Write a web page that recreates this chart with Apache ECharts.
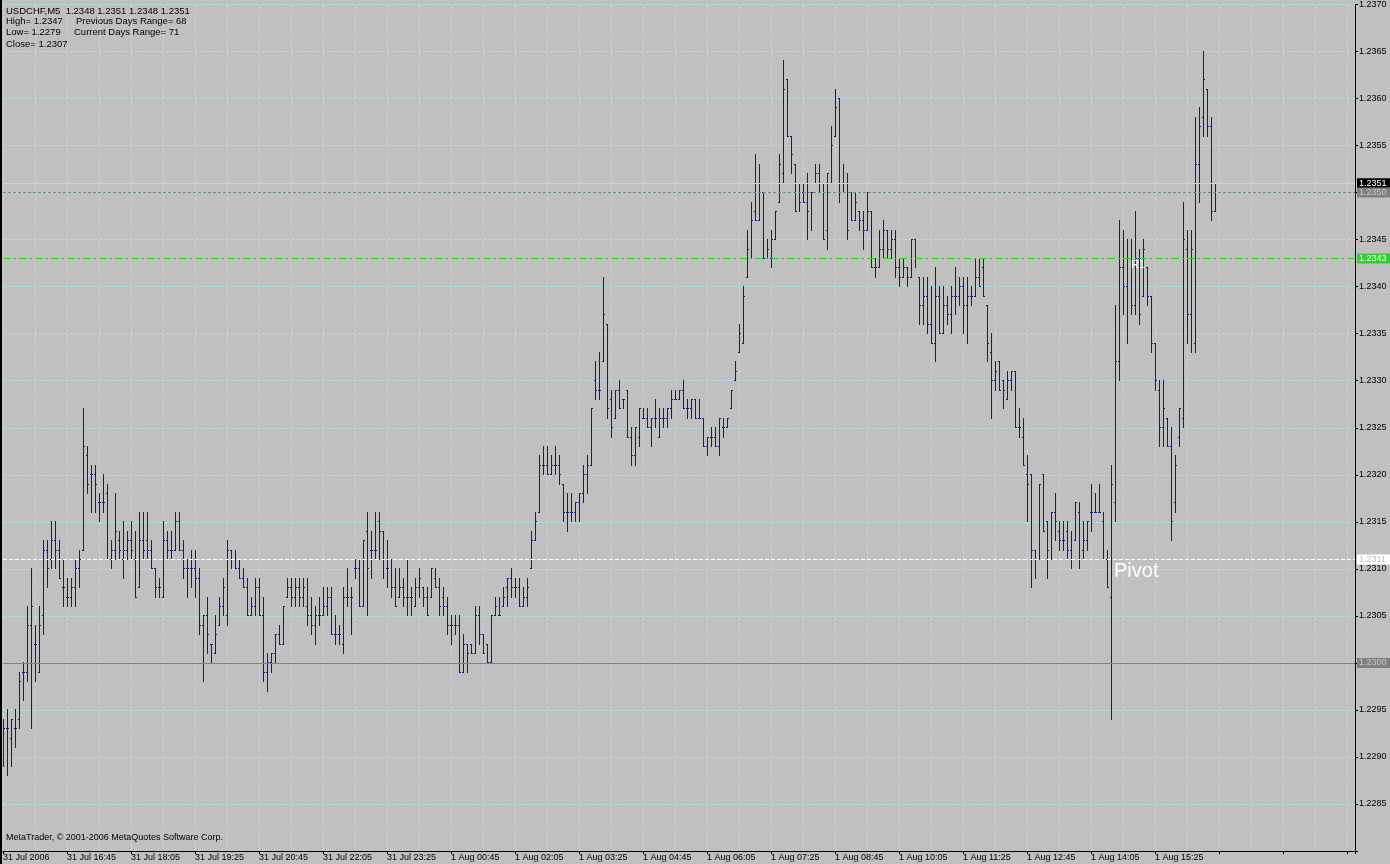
<!DOCTYPE html>
<html><head><meta charset="utf-8">
<script src="https://cdn.jsdelivr.net/npm/echarts@6.0.0/dist/echarts.min.js"></script>
<style>html,body{margin:0;padding:0;background:#c0c0c0;overflow:hidden}#c{width:1390px;height:864px}</style>
</head><body><div id="c"></div><script>
// USDCHF M5 bars, 31 Jul 2006 15:25 onwards (one entry per 5-minute bar)
const openP = [
1.2291,1.2293,1.2292,1.2293,1.2294,1.2299,1.2299,1.2304,1.2302,1.2299,
1.2305,1.2312,1.2311,1.2313,1.2312,1.2308,1.2307,1.2307,1.2308,1.2310,
1.2312,1.2322,1.2320,1.2320,1.2317,1.2317,1.2318,1.2311,1.2312,1.2313,
1.2311,1.2312,1.2313,1.2311,1.2308,1.2313,1.2313,1.2312,1.2310,1.2308,
1.2307,1.2313,1.2312,1.2312,1.2315,1.2312,1.2310,1.2310,1.2310,1.2309,
1.2304,1.2305,1.2302,1.2301,1.2304,1.2306,1.2305,1.2312,1.2311,1.2310,
1.2309,1.2308,1.2305,1.2306,1.2308,1.2305,1.2299,1.2300,1.2301,1.2303,
1.2302,1.2307,1.2308,1.2307,1.2308,1.2307,1.2306,1.2305,1.2304,1.2305,
1.2305,1.2306,1.2307,1.2303,1.2303,1.2302,1.2307,1.2307,1.2310,1.2310,
1.2306,1.2314,1.2312,1.2312,1.2315,1.2314,1.2310,1.2311,1.2308,1.2307,
1.2308,1.2307,1.2307,1.2306,1.2308,1.2308,1.2307,1.2307,1.2309,1.2308,
1.2307,1.2306,1.2304,1.2304,1.2304,1.2299,1.2302,1.2302,1.2301,1.2305,
1.2303,1.2302,1.2300,1.2305,1.2305,1.2306,1.2308,1.2309,1.2308,1.2308,
1.2306,1.2307,1.2310,1.2313,1.2316,1.2321,1.2321,1.2320,1.2321,1.2321,
1.2319,1.2316,1.2316,1.2316,1.2317,1.2318,1.2320,1.2321,1.2330,1.2329,
1.2332,1.2336,1.2328,1.2326,1.2329,1.2328,1.2329,1.2324,1.2322,1.2324,
1.2326,1.2326,1.2325,1.2326,1.2324,1.2326,1.2326,1.2327,1.2328,1.2328,
1.2329,1.2327,1.2327,1.2328,1.2326,1.2326,1.2323,1.2324,1.2324,1.2323,
1.2325,1.2325,1.2327,1.2330,1.2333,1.2334,1.2341,1.2343,1.2348,1.2347,
1.2350,1.2343,1.2343,1.2345,1.2349,1.2352,1.2362,1.2356,1.2353,1.2351,
1.2350,1.2349,1.2350,1.2351,1.2352,1.2351,1.2346,1.2351,1.2356,1.2360,
1.2351,1.2351,1.2350,1.2347,1.2348,1.2347,1.2346,1.2348,1.2342,1.2342,
1.2344,1.2346,1.2344,1.2345,1.2342,1.2341,1.2342,1.2341,1.2345,1.2341,
1.2338,1.2339,1.2336,1.2334,1.2339,1.2335,1.2338,1.2337,1.2339,1.2339,
1.2340,1.2338,1.2339,1.2339,1.2341,1.2342,1.2338,1.2333,1.2330,1.2332,
1.2330,1.2328,1.2330,1.2331,1.2325,1.2324,1.2320,1.2320,1.2312,1.2311,
1.2320,1.2315,1.2311,1.2316,1.2314,1.2313,1.2314,1.2312,1.2313,1.2316,
1.2312,1.2313,1.2316,1.2316,1.2316,1.2315,1.2311,1.2307,1.2317,1.2332,
1.2342,1.2340,1.2343,1.2338,1.2343,1.2339,1.2342,1.2339,1.2334,1.2329,
1.2325,1.2326,1.2323,1.2317,1.2324,1.2326,1.2344,1.2337,1.2334,1.2353,
1.2358,1.2361,1.2357,1.2348];
const highP = [
1.2294,1.2295,1.2294,1.2295,1.2299,1.2300,1.2306,1.2310,1.2304,1.2306,
1.2313,1.2313,1.2315,1.2315,1.2313,1.2311,1.2309,1.2309,1.2311,1.2312,
1.2327,1.2323,1.2321,1.2321,1.2318,1.2320,1.2319,1.2313,1.2318,1.2314,
1.2315,1.2314,1.2315,1.2314,1.2316,1.2316,1.2316,1.2313,1.2310,1.2309,
1.2315,1.2314,1.2314,1.2316,1.2316,1.2313,1.2311,1.2312,1.2312,1.2310,
1.2305,1.2307,1.2302,1.2305,1.2307,1.2309,1.2313,1.2312,1.2312,1.2311,
1.2310,1.2309,1.2307,1.2309,1.2309,1.2307,1.2301,1.2301,1.2303,1.2304,
1.2306,1.2309,1.2309,1.2309,1.2309,1.2309,1.2309,1.2307,1.2306,1.2307,
1.2308,1.2308,1.2308,1.2305,1.2304,1.2308,1.2310,1.2308,1.2311,1.2311,
1.2313,1.2316,1.2314,1.2316,1.2316,1.2314,1.2313,1.2311,1.2310,1.2310,
1.2309,1.2311,1.2308,1.2309,1.2310,1.2308,1.2308,1.2310,1.2310,1.2309,
1.2308,1.2307,1.2305,1.2305,1.2305,1.2303,1.2302,1.2302,1.2306,1.2306,
1.2303,1.2302,1.2305,1.2307,1.2307,1.2308,1.2309,1.2310,1.2309,1.2309,
1.2308,1.2309,1.2314,1.2316,1.2322,1.2323,1.2323,1.2322,1.2323,1.2322,
1.2319,1.2318,1.2318,1.2317,1.2318,1.2321,1.2322,1.2327,1.2332,1.2333,
1.2341,1.2336,1.2329,1.2329,1.2330,1.2328,1.2329,1.2325,1.2325,1.2327,
1.2327,1.2327,1.2326,1.2328,1.2327,1.2327,1.2327,1.2329,1.2329,1.2329,
1.2330,1.2328,1.2328,1.2328,1.2328,1.2326,1.2324,1.2325,1.2325,1.2326,
1.2326,1.2326,1.2329,1.2332,1.2336,1.2340,1.2346,1.2349,1.2354,1.2353,
1.2350,1.2345,1.2346,1.2348,1.2354,1.2364,1.2362,1.2356,1.2353,1.2351,
1.2351,1.2352,1.2350,1.2353,1.2353,1.2351,1.2352,1.2357,1.2361,1.2360,
1.2353,1.2352,1.2350,1.2350,1.2348,1.2348,1.2350,1.2348,1.2343,1.2346,
1.2347,1.2346,1.2346,1.2346,1.2343,1.2343,1.2342,1.2345,1.2345,1.2341,
1.2341,1.2341,1.2340,1.2342,1.2340,1.2340,1.2339,1.2340,1.2342,1.2341,
1.2341,1.2341,1.2340,1.2343,1.2343,1.2343,1.2338,1.2335,1.2332,1.2332,
1.2330,1.2331,1.2331,1.2331,1.2327,1.2326,1.2322,1.2320,1.2312,1.2319,
1.2320,1.2315,1.2316,1.2318,1.2315,1.2315,1.2315,1.2314,1.2317,1.2317,
1.2315,1.2315,1.2319,1.2318,1.2319,1.2316,1.2312,1.2321,1.2338,1.2347,
1.2346,1.2345,1.2345,1.2348,1.2344,1.2345,1.2342,1.2339,1.2334,1.2330,
1.2330,1.2326,1.2325,1.2322,1.2327,1.2349,1.2346,1.2346,1.2358,1.2359,
1.2365,1.2361,1.2358,1.2351];
const lowP = [
1.2289,1.2288,1.2289,1.2291,1.2293,1.2296,1.2298,1.2293,1.2298,1.2299,
1.2303,1.2308,1.2310,1.2310,1.2309,1.2306,1.2306,1.2306,1.2306,1.2308,
1.2312,1.2318,1.2316,1.2316,1.2315,1.2316,1.2311,1.2310,1.2311,1.2311,
1.2309,1.2311,1.2311,1.2307,1.2308,1.2311,1.2311,1.2310,1.2307,1.2307,
1.2307,1.2311,1.2311,1.2312,1.2312,1.2309,1.2307,1.2308,1.2307,1.2303,
1.2298,1.2301,1.2300,1.2301,1.2304,1.2305,1.2304,1.2310,1.2310,1.2309,
1.2308,1.2305,1.2305,1.2305,1.2305,1.2298,1.2297,1.2299,1.2300,1.2302,
1.2302,1.2307,1.2306,1.2306,1.2306,1.2306,1.2304,1.2303,1.2302,1.2304,
1.2305,1.2305,1.2303,1.2302,1.2302,1.2301,1.2306,1.2303,1.2309,1.2306,
1.2306,1.2305,1.2309,1.2311,1.2311,1.2309,1.2308,1.2307,1.2306,1.2307,
1.2306,1.2305,1.2305,1.2306,1.2307,1.2306,1.2305,1.2307,1.2308,1.2305,
1.2305,1.2303,1.2302,1.2303,1.2299,1.2299,1.2299,1.2301,1.2301,1.2302,
1.2301,1.2300,1.2300,1.2305,1.2305,1.2306,1.2306,1.2307,1.2307,1.2306,
1.2306,1.2306,1.2310,1.2313,1.2316,1.2320,1.2320,1.2320,1.2320,1.2319,
1.2315,1.2314,1.2315,1.2315,1.2315,1.2317,1.2318,1.2321,1.2328,1.2328,
1.2332,1.2326,1.2324,1.2326,1.2327,1.2327,1.2324,1.2321,1.2321,1.2323,
1.2326,1.2325,1.2323,1.2325,1.2324,1.2325,1.2325,1.2326,1.2328,1.2328,
1.2327,1.2326,1.2326,1.2326,1.2326,1.2323,1.2322,1.2323,1.2323,1.2322,
1.2324,1.2325,1.2327,1.2330,1.2333,1.2334,1.2341,1.2343,1.2347,1.2347,
1.2343,1.2343,1.2342,1.2345,1.2349,1.2351,1.2356,1.2352,1.2348,1.2348,
1.2349,1.2345,1.2346,1.2351,1.2350,1.2345,1.2344,1.2351,1.2356,1.2349,
1.2350,1.2345,1.2347,1.2347,1.2346,1.2344,1.2346,1.2342,1.2341,1.2342,
1.2343,1.2343,1.2343,1.2341,1.2340,1.2341,1.2340,1.2341,1.2342,1.2336,
1.2336,1.2335,1.2334,1.2332,1.2335,1.2335,1.2336,1.2335,1.2337,1.2338,
1.2335,1.2334,1.2338,1.2339,1.2340,1.2339,1.2332,1.2326,1.2329,1.2329,
1.2327,1.2328,1.2329,1.2325,1.2324,1.2321,1.2315,1.2308,1.2309,1.2311,
1.2314,1.2309,1.2311,1.2313,1.2312,1.2312,1.2311,1.2310,1.2313,1.2310,
1.2311,1.2312,1.2314,1.2316,1.2316,1.2311,1.2308,1.2294,1.2315,1.2330,
1.2337,1.2334,1.2337,1.2337,1.2336,1.2339,1.2338,1.2333,1.2329,1.2323,
1.2323,1.2323,1.2313,1.2316,1.2323,1.2325,1.2334,1.2333,1.2333,1.2349,
1.2356,1.2356,1.2347,1.2348];
const closeP = [
1.2293,1.2293,1.2294,1.2293,1.2298,1.2299,1.2304,1.2306,1.2302,1.2304,
1.2312,1.2310,1.2313,1.2312,1.2309,1.2308,1.2307,1.2308,1.2310,1.2311,
1.2323,1.2319,1.2320,1.2319,1.2317,1.2317,1.2311,1.2312,1.2314,1.2312,
1.2312,1.2313,1.2312,1.2307,1.2313,1.2312,1.2312,1.2310,1.2308,1.2308,
1.2313,1.2312,1.2312,1.2315,1.2312,1.2310,1.2310,1.2310,1.2309,1.2304,
1.2305,1.2303,1.2302,1.2303,1.2306,1.2308,1.2312,1.2311,1.2310,1.2309,
1.2308,1.2305,1.2306,1.2308,1.2305,1.2299,1.2300,1.2301,1.2303,1.2302,
1.2306,1.2308,1.2307,1.2308,1.2307,1.2308,1.2305,1.2304,1.2305,1.2305,
1.2306,1.2307,1.2303,1.2303,1.2303,1.2307,1.2307,1.2307,1.2310,1.2306,
1.2313,1.2310,1.2312,1.2312,1.2314,1.2311,1.2310,1.2308,1.2306,1.2308,
1.2307,1.2307,1.2307,1.2308,1.2309,1.2307,1.2305,1.2310,1.2308,1.2306,
1.2306,1.2304,1.2304,1.2304,1.2299,1.2302,1.2301,1.2301,1.2305,1.2303,
1.2301,1.2300,1.2305,1.2306,1.2305,1.2307,1.2309,1.2308,1.2308,1.2306,
1.2307,1.2308,1.2313,1.2315,1.2321,1.2321,1.2320,1.2321,1.2321,1.2320,
1.2316,1.2316,1.2316,1.2317,1.2318,1.2320,1.2321,1.2327,1.2329,1.2329,
1.2337,1.2327,1.2325,1.2329,1.2327,1.2328,1.2324,1.2322,1.2325,1.2327,
1.2326,1.2325,1.2326,1.2326,1.2326,1.2326,1.2327,1.2328,1.2328,1.2329,
1.2327,1.2327,1.2328,1.2326,1.2326,1.2323,1.2324,1.2324,1.2323,1.2326,
1.2325,1.2326,1.2329,1.2331,1.2335,1.2339,1.2344,1.2347,1.2347,1.2351,
1.2343,1.2344,1.2345,1.2348,1.2353,1.2361,1.2356,1.2354,1.2348,1.2349,
1.2349,1.2348,1.2350,1.2352,1.2351,1.2345,1.2352,1.2355,1.2359,1.2350,
1.2351,1.2346,1.2347,1.2349,1.2347,1.2346,1.2348,1.2342,1.2342,1.2344,
1.2346,1.2344,1.2345,1.2342,1.2341,1.2342,1.2341,1.2345,1.2343,1.2338,
1.2339,1.2336,1.2334,1.2339,1.2335,1.2338,1.2337,1.2339,1.2339,1.2340,
1.2338,1.2339,1.2339,1.2341,1.2340,1.2339,1.2334,1.2330,1.2331,1.2329,
1.2329,1.2330,1.2331,1.2325,1.2325,1.2321,1.2319,1.2312,1.2311,1.2319,
1.2314,1.2312,1.2316,1.2315,1.2313,1.2313,1.2312,1.2311,1.2317,1.2311,
1.2313,1.2315,1.2316,1.2316,1.2316,1.2311,1.2308,1.2319,1.2332,1.2342,
1.2340,1.2343,1.2338,1.2343,1.2337,1.2344,1.2339,1.2334,1.2330,1.2325,
1.2327,1.2323,1.2315,1.2321,1.2327,1.2345,1.2337,1.2344,1.2353,1.2357,
1.2362,1.2357,1.2348,1.2351];

// time labels, one every 16 bars
const xTickLabels = ["31 Jul 2006","31 Jul 16:45","31 Jul 18:05","31 Jul 19:25","31 Jul 20:45",
  "31 Jul 22:05","31 Jul 23:25","1 Aug 00:45","1 Aug 02:05","1 Aug 03:25","1 Aug 04:45",
  "1 Aug 06:05","1 Aug 07:25","1 Aug 08:45","1 Aug 10:05","1 Aug 11:25","1 Aug 12:45",
  "1 Aug 14:05","1 Aug 15:25"];

// horizontal price levels
const levelPrices = [1.2351, 1.2350, 1.2343, 1.2311, 1.2300];
const hiddenAxisLabels = [12280, 12300, 12350];

const headerLines = [
  ["USDCHF,M5  1.2348 1.2351 1.2348 1.2351", ""],
  ["High= 1.2347", "Previous Days Range= 68"],
  ["Low= 1.2279", "Current Days Range= 71"],
  ["Close= 1.2307", ""]
];

const FONT = '"Liberation Sans", Arial, sans-serif';
const barColor = '#191970';
const gridColor = '#a4e6e6';

const chart = echarts.init(document.getElementById('c'), null, {renderer: 'canvas'});
const barData = openP.map((o, i) => [i, o, highP[i], lowP[i], closeP[i]]);

function lvlLabel(bg, fg) {
  return {show: true, position: 'end', distance: 2, formatter: p => Number(p.value).toFixed(4),
    backgroundColor: bg, color: fg, fontSize: 9, fontFamily: FONT, padding: [1, 2, 0, 2],
    width: 30, lineHeight: 9};
}

const levelStyles = [
  {lineStyle: {color: '#98ecec', type: 'solid', width: 1}, label: lvlLabel('#000000', '#ffffff')},
  {lineStyle: {color: '#808080', type: [3, 2], width: 1}, label: lvlLabel('#808080', '#c8c8c8')},
  {lineStyle: {color: '#32cd32', type: [8, 3, 2, 3], width: 1}, label: lvlLabel('#32cd32', '#f0fff0')},
  {lineStyle: {color: '#ffffff', type: [4, 2], width: 1}, label: lvlLabel('#ffffff', '#c0c0c0')},
  {lineStyle: {color: '#808080', type: 'solid', width: 1}, label: lvlLabel('#808080', '#c8c8c8')}
];

const graphics = [
  {type: 'rect', shape: {x: 0, y: 0, width: 2, height: 864}, style: {fill: '#000'}, z: 100}
];
const headerY = [11, 21.5, 32.5, 44];
headerLines.forEach((ln, k) => {
  graphics.push({type: 'text', x: 6, y: headerY[k], z: 100,
    style: {text: ln[0], fill: '#000', font: '9.5px ' + FONT, verticalAlign: 'middle'}});
  if (ln[1]) graphics.push({type: 'text', x: k === 1 ? 76 : 74, y: headerY[k], z: 100,
    style: {text: ln[1], fill: '#000', font: '9.5px ' + FONT, verticalAlign: 'middle'}});
});
graphics.push({type: 'text', x: 6, y: 838, z: 100,
  style: {text: 'MetaTrader, \u00a9 2001-2006 MetaQuotes Software Corp.', fill: '#000', font: '9px ' + FONT, verticalAlign: 'middle'}});
graphics.push({type: 'text', x: 1131, y: 265, z: 100,
  style: {text: 'R1', fill: '#ffffff', font: '11px ' + FONT, verticalAlign: 'middle'}});
graphics.push({type: 'text', x: 1114, y: 571, z: 100,
  style: {text: 'Pivot', fill: '#ffffff', font: '20px ' + FONT, verticalAlign: 'middle'}});

const option = {
  backgroundColor: '#c0c0c0',
  animation: false,
  grid: {left: 3, right: 35, top: 3, bottom: 13, containLabel: false},
  xAxis: [
    {type: 'value', min: 0, max: 338, interval: 8, position: 'bottom',
     axisLine: {show: true, onZero: false, lineStyle: {color: '#000', width: 1}},
     axisTick: {show: false}, axisLabel: {show: false},
     splitLine: {show: true, lineStyle: {color: gridColor, type: [4, 2], width: 1}}},
    {type: 'value', min: 0, max: 338, interval: 16, position: 'bottom',
     axisLine: {show: false, onZero: false}, axisTick: {show: true, length: 3, lineStyle: {color: '#000'}},
     axisLabel: {show: true, align: 'left', margin: 2, fontSize: 9, fontFamily: FONT, color: '#000',
       formatter: v => (v % 16 === 0 && xTickLabels[v / 16]) || ''},
     splitLine: {show: false}}
  ],
  yAxis: {type: 'value', position: 'right', min: 1.2280, max: 1.2370, interval: 0.0005, scale: true,
    axisLine: {show: true, onZero: false, lineStyle: {color: '#000', width: 1}},
    axisTick: {show: true, length: 3, lineStyle: {color: '#000'}},
    axisLabel: {show: true, margin: 4, fontSize: 9, fontFamily: FONT, color: '#000',
      formatter: v => hiddenAxisLabels.indexOf(Math.round(v * 10000)) >= 0 ? '' : v.toFixed(4)},
    splitLine: {show: true, lineStyle: {color: gridColor, type: [4, 2], width: 1}}},
  graphic: graphics,
  series: [{
    type: 'custom', xAxisIndex: 0, yAxisIndex: 0, clip: true,
    data: barData,
    encode: {x: 0, y: [1, 2, 3, 4]},
    renderItem: function (params, api) {
      const i = api.value(0);
      const po = api.coord([i, api.value(1)]);
      const ph = api.coord([i, api.value(2)]);
      const pl = api.coord([i, api.value(3)]);
      const pc = api.coord([i, api.value(4)]);
      const x = Math.round(po[0]);
      const yh = Math.floor(ph[1]), yl = Math.floor(pl[1]);
      const yo = Math.floor(po[1]), yc = Math.floor(pc[1]);
      const st = {fill: barColor};
      return {type: 'group', children: [
        {type: 'rect', shape: {x: x, y: yh, width: 1, height: yl - yh + 1}, style: st},
        {type: 'rect', shape: {x: x - 1, y: yo, width: 1, height: 1}, style: st},
        {type: 'rect', shape: {x: x + 1, y: yc, width: 1, height: 1}, style: st}
      ]};
    },
    markLine: {
      silent: true, symbol: ['none', 'none'], precision: 4, animation: false,
      data: levelPrices.map((p, k) => Object.assign({yAxis: p}, levelStyles[k]))
    }
  }]
};
chart.setOption(option);
</script></body></html>
